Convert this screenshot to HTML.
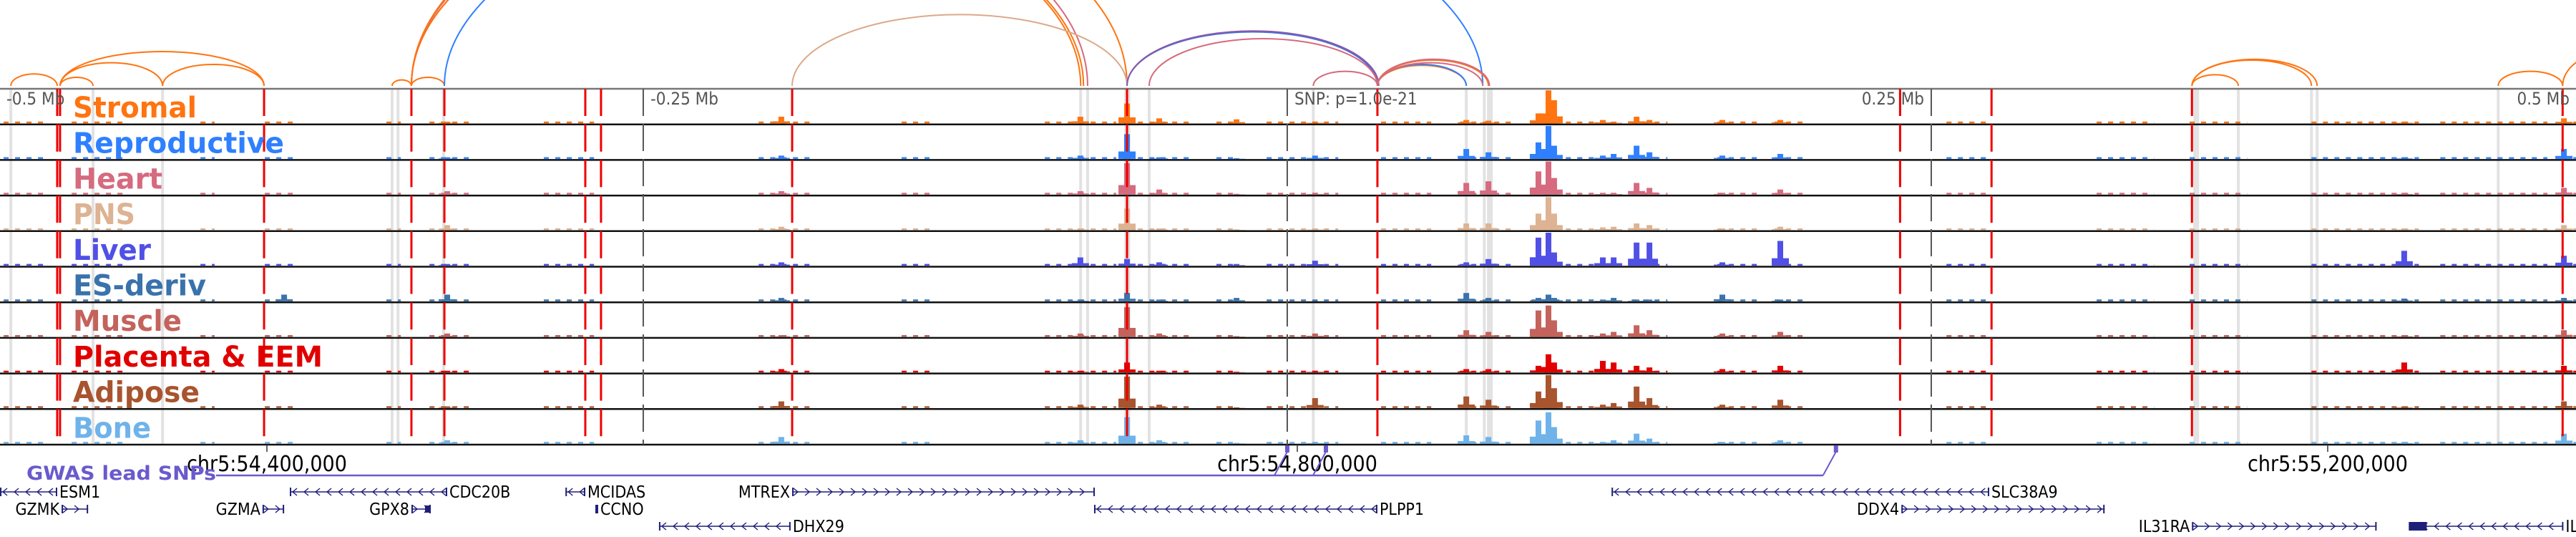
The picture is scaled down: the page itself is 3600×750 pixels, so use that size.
<!DOCTYPE html>
<html><head><meta charset="utf-8"><style>
html,body{margin:0;padding:0;background:#fff;}
svg{display:block;font-family:"DejaVu Sans Condensed","DejaVu Sans","Liberation Sans",sans-serif;}
</style></head><body>
<svg id="chart" width="3600" height="750" viewBox="0 0 3600 750" xmlns="http://www.w3.org/2000/svg">
<g id="arcs"></g>
<g id="bands"></g>
<g id="tracks"></g>
<g id="vlines"></g>
<g id="labels"></g>
<g id="axis"></g>
<g id="gwas"></g>
<g id="genes"></g>
</svg>
<script>
// ---- data (genomic positions in kb on chr5) ----
const trackNames = ["Stromal","Reproductive","Heart","PNS","Liver","ES-deriv","Muscle","Placenta & EEM","Adipose","Bone"];
const trackColors = ["#ff7410","#2f80ff","#d66a7e","#ddb393","#5050e6","#3a72ac","#c4625c","#e00000","#a8542f","#6fb3ea"];
const peakKb = [54406.7,54470.0,54599.7,54715.8,54733.9,54746.4,54776.4,54806.9,54865.6,54874.2,54893.6,54897.5,54899.7,54918.6,54922.8,54931.7,54936.7,54965.0,54987.5,55229.7,55291.7];
const hStromal  = [0,.05,.2,.2,.6,.15,.12,.05,.1,.08,.3,1,.7,.1,.05,.2,.1,.1,.1,.05,.15];
const hRepro    = [0,.05,.1,.1,.75,.05,.02,.1,.3,.2,.5,1,.4,.1,.15,.4,.2,.1,.15,.05,.3];
const hHeart    = [0,.1,.1,.1,.95,.15,.02,.05,.35,.4,.7,1,.5,.05,.05,.35,.2,.05,.15,.05,.2];
const hPNS      = [0,.15,.1,.05,.65,.05,.02,.05,.2,.2,.5,1,.5,.08,.1,.2,.15,.05,.1,.05,.15];
const hLiver    = [0,.05,.1,.25,.2,.1,.05,.15,.1,.2,.85,1,.4,.25,.25,.7,.7,.1,.75,.45,.3];
const hES       = [.2,.2,.1,.05,.25,.05,.1,.02,.25,.1,.1,.2,.1,.05,.1,.05,.05,.2,.05,.08,.1];
const hMuscle   = [0,.1,.05,.1,.9,.1,.02,.1,.2,.15,.8,.95,.5,.1,.15,.35,.2,.1,.15,.05,.2];
const hPlacenta = [0,.05,.1,.05,.3,.05,.02,.05,.1,.1,.2,.55,.3,.35,.3,.2,.15,.1,.2,.3,.2];
const hAdipose  = [0,.05,.2,.1,.95,.1,.02,.3,.35,.25,.5,1,.6,.1,.15,.65,.3,.1,.25,.05,.2];
const hBone     = [0,.1,.2,.1,.8,.1,.02,.05,.25,.2,.7,.95,.5,.05,.1,.3,.15,.05,.1,.05,.3];
const bgStartKb = [54297.8,54324.2,54374.2,54399.2,54446.4,54463.1,54507.5,54590.9,54646.4,54702.0,54738.1,54768.6,54788.1,54832.5,54863.1,54890.9,54929.8,54963.1,54985.3,55052.0,55110.3,55146.4,55193.7,55243.7,55290.9];
const bgEndKb   = [54313.1,54346.4,54379.7,54410.3,54452.0,54479.7,54527.0,54613.1,54657.5,54729.7,54760.3,54777.0,54815.9,54852.0,54885.3,54915.9,54943.7,54979.8,54996.4,55068.6,55132.6,55168.7,55235.4,55285.3,55296.4];
const redLineKb = [54318.6,54319.7,54398.9,54456.1,54468.9,54523.6,54529.7,54603.9,54733.9,54831.1,55034.0,55069.5,55147.3,55291.2];
const bandKb = [54300.6,54332.5,54359.5,54448.6,54450.9,54468.6,54715.9,54718.6,54733.4,54734.6,54742.5,54806.2,54865.6,54872.6,54874.2,54875.3,55148.4,55149.5,55165.3,55193.7,55195.9,55266.2];
const tickMbLabels = ["-0.5 Mb","-0.25 Mb","SNP: p=1.0e-21","0.25 Mb","0.5 Mb"];
const tickMbKb = [54296.4,54546.1,54796.1,55046.1,55296.1];
const axisKb = [54400,54800,55200];
const axisLabels = ["chr5:54,400,000","chr5:54,800,000","chr5:55,200,000"];
const arcStartKb = [54300.6,54319.7,54319.7,54319.7,54359.5,54448.6,54456.1,54456.1,54456.1,54456.1,54456.1,54468.9,54603.9,54733.9,54733.9,54742.5,54806.2,54831.1,54831.1,54831.1,54831.1,54831.1,55147.3,55147.3,55147.3,55266.2,55291.2];
const arcEndKb   = [54318.6,54332.5,54359.5,54398.9,54398.9,54456.1,54468.9,54715.9,54717.0,54718.6,54733.9,54872.0,54733.9,54831.1,54831.6,54831.1,54831.1,54865.6,54865.6,54872.0,54874.2,54874.6,55165.3,55193.7,55195.9,55291.2,55330.0];
const arcHeight  = [.14,.1,.27,.4,.25,.07,.1,2.2,2.2,2.3,2.4,2.6,.83,.63,.64,.55,.17,.24,.25,.27,.3,.31,.13,.3,.31,.17,.4];
const arcColors  = ["#ff7410","#ff7410","#ff7410","#ff7410","#ff7410","#ff7410","#ff7410","#ff7410","#ff7410","#d66a7e","#ff7410","#2f80ff","#dba98a","#3e6fe0","#8a5aa8","#d66a7e","#d66a7e","#ff7410","#2f80ff","#d66a7e","#ff7410","#d66a7e","#ff7410","#ff7410","#ff7410","#ff7410","#ff7410"];
const geneNames  = ["ESM1","CDC20B","MCIDAS","MTREX","SLC38A9","GZMK","GZMA","GPX8","CCNO","PLPP1","DDX4","DHX29","IL31RA","IL6ST"];
const geneStartKb= [54296.4,54408.9,54515.9,54603.9,54922.0,54320.3,54398.3,54456.1,54527.5,54721.1,55034.5,54552.2,55147.3,55231.5];
const geneEndKb  = [54318.6,54470.0,54523.6,54721.4,55068.6,54330.6,54406.7,54463.6,54528.6,54831.1,55113.4,54603.3,55219.0,55291.5];
const geneStrand = ["-","-","-","+","-","+","+","+","-","-","+","-","+","-"];
const geneRow    = [0,0,0,0,0,1,1,1,1,1,1,2,2,2];
const gwasKb = [54796.1,54811.1,55009.1];

const heights = [hStromal,hRepro,hHeart,hPNS,hLiver,hES,hMuscle,hPlacenta,hAdipose,hBone];
// ---- scales ----
const X0 = 373, PX_PER_KB = 3.6, KB0 = 54400;
const x = kb => X0 + (kb - KB0) * PX_PER_KB;
const TOP = 124, ROWH = 49.7, MAXH = 46, ARC_BASE = 120, ARC_H = 120;
const NS = "http://www.w3.org/2000/svg";
function mk(tag, attrs, parent){ const e=document.createElementNS(NS,tag); for(const k in attrs) e.setAttribute(k,attrs[k]); parent.appendChild(e); return e; }

// arcs
const gArcs = document.getElementById('arcs');
arcStartKb.forEach((s,i)=>{
  const x1=x(s), x2=x(arcEndKb[i]); const rx=(x2-x1)/2, ry=arcHeight[i]*ARC_H;
  const p = mk('path',{d:`M${x1},${ARC_BASE} A${rx},${ry} 0 0 1 ${x2},${ARC_BASE}`,fill:'none',stroke:arcColors[i],'stroke-width':2},gArcs);
  
  
});
// bands
const gBands = document.getElementById('bands');
bandKb.forEach(b=>{
  const r = mk('rect',{x:x(b)-2,y:TOP,width:4,height:ROWH*10,fill:'#e2e2e2'},gBands);
  
  
});
// tracks
const gT = document.getElementById('tracks');
trackNames.forEach((n,t)=>{
  const top = TOP + t*ROWH, base = top + ROWH - 1.5;
  const g = mk('g',{},gT);
  
  
  bgStartKb.forEach((s,i)=>{
    const l = mk('line',{x1:x(s),x2:x(bgEndKb[i]),y1:base-1.2,y2:base-1.2,stroke:trackColors[t],'stroke-width':2.4,'stroke-dasharray':'7 9'},g);
    
    
  });
  peakKb.forEach((p,i)=>{
    const h = heights[t][i]*MAXH; if(h<=0) return;
    const cx = x(p);
    const r = mk('rect',{x:cx-4,y:base-h,width:8,height:h,fill:trackColors[t]},g);
    
    
    const r2 = mk('rect',{x:cx-12,y:base-h*0.3,width:24,height:h*0.3,fill:trackColors[t]},g);
    
    
  });
});
// row separators
for(let i=0;i<=10;i++){
  const l = mk('line',{x1:0,x2:3600,y1:TOP+i*ROWH,y2:TOP+i*ROWH,stroke:i==0?'#777':'#111','stroke-width':2.5},gT);
  
  
}
// vertical lines
const gV = document.getElementById('vlines');
tickMbKb.forEach((k,i)=>{
  if(i==0||i==4) return;
  const l = mk('line',{x1:x(k),x2:x(k),y1:TOP,y2:TOP+ROWH*10,stroke:'#555','stroke-width':2,'stroke-dasharray':'38 11'},gV);
  
  
});
redLineKb.forEach(k=>{
  const l = mk('line',{x1:x(k),x2:x(k),y1:TOP,y2:TOP+ROWH*10,stroke:'#ee0000','stroke-width':3,'stroke-dasharray':'38 11.7'},gV);
  
  
});
tickMbLabels.forEach((s,i)=>{
  let xx = x(tickMbKb[i]) + 10, anchor='start';
  if(i==0) xx=9;
  if(i==3){ xx = x(tickMbKb[i]) - 10; anchor='end'; }
  if(i==4){ xx = 3591; anchor='end'; }
  const t = mk('text',{x:xx,y:146,'font-size':24,fill:'#555','text-anchor':anchor},gV);
  t.textContent = s;
  
  
});
// track labels
const gL = document.getElementById('labels');
const labelWidths = [173,295,125,87,109,186,152,349,177,109];
trackNames.forEach((n,t)=>{
  const tx = mk('text',{x:102,y:TOP+t*ROWH+40,'font-size':40,'font-weight':'bold',fill:trackColors[t],textLength:labelWidths[t],lengthAdjust:'spacingAndGlyphs'},gL);
  tx.textContent = n;
  
  
});
// axis
const gA = document.getElementById('axis');
axisKb.forEach((k,i)=>{
  const l = mk('line',{x1:x(k),x2:x(k),y1:TOP+ROWH*10,y2:TOP+ROWH*10+10,stroke:'#333','stroke-width':1.5},gA);
  
  
  const t = mk('text',{x:x(k),y:658,'font-size':30,fill:'#000','text-anchor':'middle'},gA);
  t.textContent = axisLabels[i];
  
  
});
// gwas
const gG = document.getElementById('gwas');
const gl = mk('text',{x:37,y:670,'font-size':27,'font-weight':'bold',fill:'#6a5acd',textLength:265,lengthAdjust:'spacingAndGlyphs'},gG);
gl.textContent = 'GWAS lead SNPs';


const lastG = x(gwasKb[gwasKb.length-1]);
const hl = mk('line',{x1:302,x2:lastG-18,y1:664,y2:664,stroke:'#6a5acd','stroke-width':2.5},gG);


gwasKb.forEach(k=>{
  const gx = x(k);
  const d = mk('line',{x1:gx-18,y1:664,x2:gx,y2:631,stroke:'#6a5acd','stroke-width':2},gG);
  
  
  const r = mk('rect',{x:gx-3,y:622,width:6,height:10,fill:'#6a5acd'},gG);
  
  
});
// genes
const gGe = document.getElementById('genes');
const rowY = [687,711,735];
geneNames.forEach((n,i)=>{
  const x1 = x(geneStartKb[i]), x2 = x(geneEndKb[i]), y = rowY[geneRow[i]];
  const g = mk('g',{},gGe);
  
  
  mk('line',{x1:x1,x2:x2,y1:y,y2:y,stroke:'#1f1f7a','stroke-width':1.5},g);
  for(let cx=x1+6; cx<x2-4; cx+=16){
    const dir = geneStrand[i]=='+'?1:-1;
    mk('path',{d:`M${cx-4*dir},${y-5} L${cx+2*dir},${y} L${cx-4*dir},${y+5}`,fill:'none',stroke:'#1f1f7a','stroke-width':1.4},g);
  }
  mk('rect',{x:x1,y:y-6,width:2,height:12,fill:'#1f1f7a'},g);
  mk('rect',{x:x2-2,y:y-6,width:2,height:12,fill:'#1f1f7a'},g);
  if(n=='GPX8') mk('rect',{x:x2-8,y:y-5,width:8,height:10,fill:'#1f1f7a'},g);
  if(n=='IL6ST') mk('rect',{x:x1,y:y-6,width:25,height:12,fill:'#1f1f7a'},g);
  const left = geneStrand[i]=='+';
  const t = mk('text',{x:left?x1-3:x2+3,y:y+8,'font-size':23,fill:'#000','text-anchor':left?'end':'start'},g);
  t.textContent = n;
});
</script>
</body></html>
